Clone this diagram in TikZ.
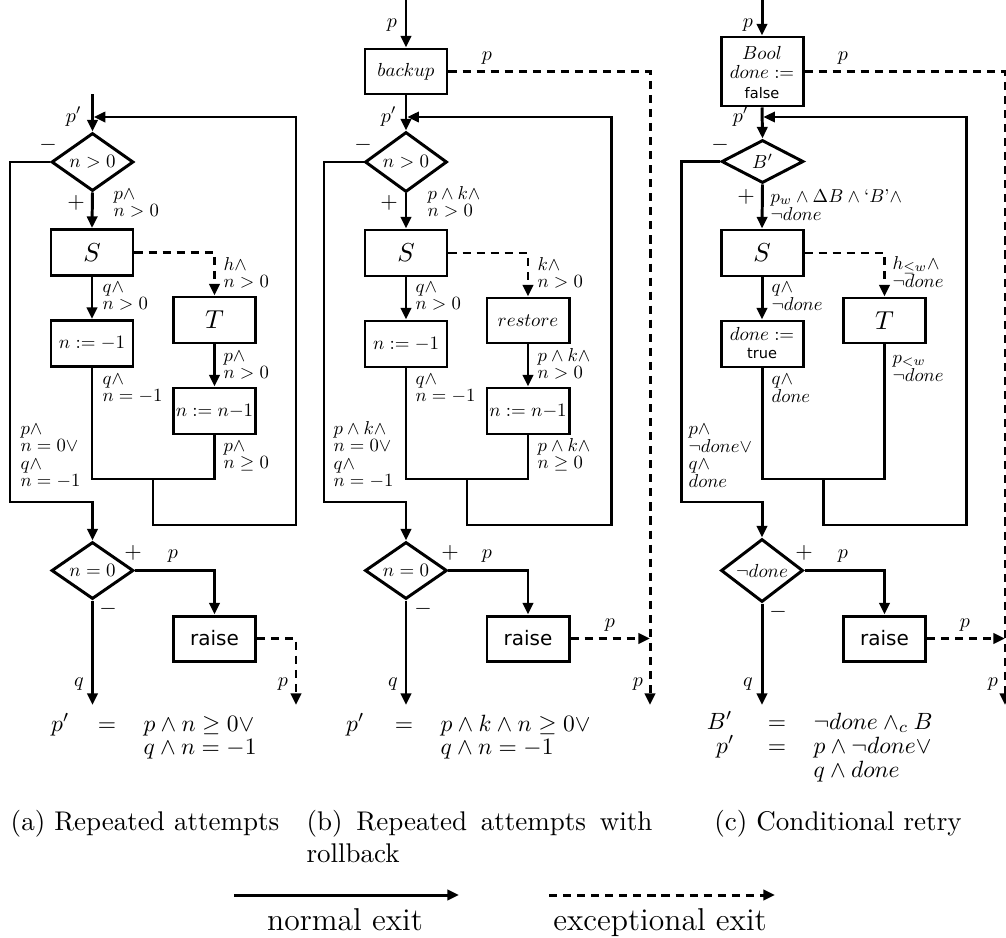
\RequirePackage{fix-cm}
\documentclass[tikz,border=0pt]{standalone}
\usepackage{graphicx}
\usepackage{fontspec}
\newfontfamily\sansf{DejaVu Sans}
\usetikzlibrary{arrows.meta,shapes.geometric}
% one drawing unit
\newcommand\pxl{0.37pt}
% all diagram text is set at 10pt and scaled down as a whole
\newcommand\basefont{\fontsize{10}{9.4}\selectfont}
\newcommand\capfont{\fontsize{10}{12}\selectfont}
\newcommand\legfont{\fontsize{11.7}{14}\selectfont}
\newcommand\lbltab[1]{\begin{tabular}[t]{@{}l@{}}#1\end{tabular}}
\newcommand\lblx[1]{\scalebox{0.69}{\lbltab{#1}}}
\newcommand\boxx[1]{\scalebox{0.7}{#1}}
\newcommand\diax[1]{\makebox[0pt]{\scalebox{0.7}{#1}}}
\newcommand\bigx[1]{\scalebox{0.96}{#1}}
\newcommand\pmx[1]{\scalebox{0.83}{#1}}
\newcommand\smx[1]{\scalebox{0.74}{#1}}
\newcommand\eqx[1]{\scalebox{0.87}{#1}}
\newcommand\raisetxt{{\fontsize{7.4}{9}\sansf raise}}
\begin{document}
\begin{tikzpicture}[x=0.37pt, y=-0.37pt,
  ln/.style={line width=1.1pt},
  flow/.style={ln, -{Triangle[length=4.3pt,width=3.8pt]}},
  exc/.style={ln, dash pattern=on 3pt off 2.2pt, -{Triangle[length=4.3pt,width=3.8pt]}},
  box/.style={draw, ln, rectangle, inner sep=0pt, minimum width=82*\pxl, minimum height=46*\pxl, font=\basefont},
  dia/.style={draw, ln, diamond, inner sep=0pt, minimum width=82*\pxl, minimum height=58*\pxl, font=\basefont},
  txt/.style={inner sep=0pt, font=\basefont},
  lbl/.style={inner sep=0pt, anchor=base west, font=\basefont},
  pm/.style={inner sep=0pt, font=\basefont},
  sm/.style={inner sep=0pt, anchor=base, font=\basefont},
  eq/.style={inner sep=0pt, font=\basefont},
  captxt/.style={inner sep=0pt, font=\capfont},
  leg/.style={inner sep=0pt, anchor=base, font=\legfont}]
\fill[white] (0,0) rectangle (1006,937);
\useasboundingbox (0,0) rectangle (1006,937);

%% ---------------- (a) repeated attempts ----------------
\node[dia] (a-d1) at (92.5,162) {\diax{$n>0$}};
\node[box] (a-S) at (92,252.5) {\bigx{$S$}};
\node[box] (a-n1) at (92,343.5) {\boxx{$n:=-1$}};
\node[box] (a-T) at (214.5,320) {\bigx{$T$}};
\node[box] (a-dec) at (214.5,411) {\boxx{$n:=n{-}1$}};
\node[dia, minimum height=57*\pxl] (a-d2) at (92.5,570.5) {\diax{$n=0$}};
\node[box, minimum height=45*\pxl] (a-raise) at (214.5,638.5) {\raisetxt};
\coordinate (a-in) at (92.5,94);
\coordinate (a-j) at (153,479);
\coordinate (a-r) at (296,525);
\coordinate (a-t) at (92.5,117);
\coordinate (a-l) at (10,502);
\coordinate (a-out) at (92.5,705);
\coordinate (a-xout) at (296,705);

\draw[flow] (a-in) -- (a-d1.north);
\draw[ln] (a-n1.south) |- (a-j) -| (a-dec.south);
\draw[flow, shorten >=0.5pt] (a-j) |- (a-r) |- (a-t);
\draw[flow] (a-d1.south) -- (a-S.north);
\draw[flow] (a-S.south) -- (a-n1.north);
\draw[exc] (a-S.east) -| (a-T.north);
\draw[flow] (a-T.south) -- (a-dec.north);
\draw[flow] (a-d1.west) -| (a-l) -| (a-d2.north);
\draw[flow] (a-d2.east) -| (a-raise.north);
\draw[flow] (a-d2.south) -- (a-out);
\draw[exc] (a-raise.east) -| (a-xout);

\node[sm, anchor=base east] (a-pp) at (82,122) {\smx{$p'$}};
\node[pm] (a-mi1) at (48,145) {\pmx{$-$}};
\node[pm] (a-pl1) at (76,203) {\pmx{$+$}};
\node[lbl] (a-L1) at (113,199) {\lblx{$p\wedge$\\$n>0$}};
\node[lbl] (a-L2) at (223,270) {\lblx{$h\wedge$\\$n>0$}};
\node[lbl] (a-L3) at (102,292) {\lblx{$q\wedge$\\$n>0$}};
\node[lbl] (a-L4) at (223,361) {\lblx{$p\wedge$\\$n>0$}};
\node[lbl] (a-L5) at (102,384) {\lblx{$q\wedge$\\$n=-1$}};
\node[lbl] (a-L6) at (223,451) {\lblx{$p\wedge$\\$n\geq 0$}};
\node[lbl] (a-L7) at (20,434) {\lblx{$p\wedge$\\$n=0\vee$\\$q\wedge$\\$n=-1$}};
\node[pm] (a-pl2) at (133,553) {\pmx{$+$}};
\node[sm] (a-p2) at (173,558) {\smx{$p$}};
\node[pm] (a-mi2) at (108,609) {\pmx{$-$}};
\node[sm] (a-q) at (79,686) {\smx{$q$}};
\node[sm] (a-px) at (283,686) {\smx{$p$}};

\node[eq, anchor=base east] (a-e1l) at (70,731) {\eqx{$p'$}};
\node[eq, anchor=base] (a-e1m) at (107,731) {\eqx{$=$}};
\node[eq, anchor=base west] (a-e1r) at (143,731) {\eqx{$p\wedge n\geq 0\vee$}};
\node[eq, anchor=base west] (a-e2r) at (143,754) {\eqx{$q\wedge n=-1$}};

%% ---------------- (b) repeated attempts with rollback ----------------
\node[box, minimum height=45*\pxl] (b-bk) at (406,71.5) {\boxx{$backup$}};
\node[dia, minimum height=60*\pxl] (b-d1) at (406,162) {\diax{$n>0$}};
\node[box] (b-S) at (406,253) {\bigx{$S$}};
\node[box] (b-n1) at (406,344) {\boxx{$n:=-1$}};
\node[box, minimum height=45*\pxl] (b-rs) at (528,320.5) {\boxx{$restore$}};
\node[box] (b-dec) at (528,411) {\boxx{$n:=n{-}1$}};
\node[dia, minimum height=57*\pxl] (b-d2) at (406,570.5) {\diax{$n=0$}};
\node[box, minimum height=45*\pxl] (b-raise) at (528,638.5) {\raisetxt};
\coordinate (b-in) at (406,0);
\coordinate (b-j) at (467,479);
\coordinate (b-r) at (611,525);
\coordinate (b-t) at (406,117);
\coordinate (b-l) at (324,502);
\coordinate (b-out) at (406,705);
\coordinate (b-xout) at (650,705);

\draw[flow] (b-in) -- (b-bk.north);
\draw[flow] (b-bk.south) -- (b-d1.north);
\draw[exc] (b-bk.east) -| (b-xout);
\draw[ln] (b-n1.south) |- (b-j) -| (b-dec.south);
\draw[flow, shorten >=0.5pt] (b-j) |- (b-r) |- (b-t);
\draw[flow] (b-d1.south) -- (b-S.north);
\draw[flow] (b-S.south) -- (b-n1.north);
\draw[exc] (b-S.east) -| (b-rs.north);
\draw[flow] (b-rs.south) -- (b-dec.north);
\draw[flow] (b-d1.west) -| (b-l) -| (b-d2.north);
\draw[flow] (b-d2.east) -| (b-raise.north);
\draw[flow] (b-d2.south) -- (b-out);
\draw[exc] (b-raise.east) -- (b-raise.east -| b-xout);

\node[sm] (b-pin) at (392,27) {\smx{$p$}};
\node[sm] (b-pbk) at (487,60) {\smx{$p$}};
\node[sm, anchor=base east] (b-pp) at (397,122) {\smx{$p'$}};
\node[pm] (b-mi1) at (363,145) {\pmx{$-$}};
\node[pm] (b-pl1) at (389,203) {\pmx{$+$}};
\node[lbl] (b-L1) at (427,199) {\lblx{$p\wedge k\wedge$\\$n>0$}};
\node[lbl] (b-L2) at (537,270) {\lblx{$k\wedge$\\$n>0$}};
\node[lbl] (b-L3) at (415,292) {\lblx{$q\wedge$\\$n>0$}};
\node[lbl] (b-L4) at (537,361) {\lblx{$p\wedge k\wedge$\\$n>0$}};
\node[lbl] (b-L5) at (415,384) {\lblx{$q\wedge$\\$n=-1$}};
\node[lbl] (b-L6) at (537,451) {\lblx{$p\wedge k\wedge$\\$n\geq 0$}};
\node[lbl] (b-L7) at (333,434) {\lblx{$p\wedge k\wedge$\\$n=0\vee$\\$q\wedge$\\$n=-1$}};
\node[pm] (b-pl2) at (450,553) {\pmx{$+$}};
\node[sm] (b-p2) at (487,558) {\smx{$p$}};
\node[pm] (b-mi2) at (423,609) {\pmx{$-$}};
\node[sm] (b-praise) at (610,627) {\smx{$p$}};
\node[sm] (b-q) at (393,686) {\smx{$q$}};
\node[sm] (b-px) at (638,686) {\smx{$p$}};

\node[eq, anchor=base east] (b-e1l) at (365,731) {\eqx{$p'$}};
\node[eq, anchor=base] (b-e1m) at (404,731) {\eqx{$=$}};
\node[eq, anchor=base west] (b-e1r) at (440,731) {\eqx{$p\wedge k\wedge n\geq 0\vee$}};
\node[eq, anchor=base west] (b-e2r) at (440,754) {\eqx{$q\wedge n=-1$}};

%% ---------------- (c) conditional retry ----------------
\node[box, minimum height=69*\pxl] (c-bool) at (762,71.5) {};
\node[txt] (c-boolt) at (762,75)
  {\boxx{\fontsize{10}{10.3}\selectfont\begin{tabular}{@{}c@{}}$Bool$\\$done:=$\\{\fontsize{7.7}{10.3}\sansf false}\end{tabular}}};
\node[dia, minimum height=43*\pxl] (c-d1) at (762.5,161.5) {\diax{$B'$}};
\node[box] (c-S) at (762,253) {\bigx{$S$}};
\node[box] (c-done) at (762,344) {};
\node[txt] (c-donet) at (762,346)
  {\boxx{\fontsize{10}{9.5}\selectfont\begin{tabular}{@{}c@{}}$done:=$\\{\fontsize{7.7}{9.5}\sansf true}\end{tabular}}};
\node[box, minimum height=45*\pxl] (c-T) at (884.5,320.5) {\bigx{$T$}};
\node[dia, minimum height=63*\pxl] (c-d2) at (762,570.5) {\diax{$\neg done$}};
\node[box, minimum height=45*\pxl] (c-raise) at (884.5,638.5) {\raisetxt};
\coordinate (c-in) at (762,0);
\coordinate (c-j) at (823,479);
\coordinate (c-r) at (966,525);
\coordinate (c-t) at (762,117);
\coordinate (c-l) at (681,502);
\coordinate (c-out) at (762,705);
\coordinate (c-xout) at (1005,705);

\draw[flow] (c-in) -- (c-bool.north);
\draw[flow] (c-bool.south) -- (c-d1.north);
\draw[exc] (c-bool.east) -| (c-xout);
\draw[ln] (c-done.south) |- (c-j) -| (c-T.south);
\draw[flow, shorten >=0.5pt] (c-j) |- (c-r) |- (c-t);
\draw[flow] (c-d1.south) -- (c-S.north);
\draw[flow] (c-S.south) -- (c-done.north);
\draw[exc] (c-S.east) -| (c-T.north);
\draw[flow] (c-d1.west) -| (c-l) -| (c-d2.north);
\draw[flow] (c-d2.east) -| (c-raise.north);
\draw[flow] (c-d2.south) -- (c-out);
\draw[exc] (c-raise.east) -- (c-raise.east -| c-xout);

\node[sm] (c-pin) at (748,27) {\smx{$p$}};
\node[sm] (c-pbool) at (843,60) {\smx{$p$}};
\node[sm, anchor=base east] (c-pp) at (749,122) {\smx{$p'$}};
\node[pm] (c-mi1) at (720,145) {\pmx{$-$}};
\node[pm] (c-pl1) at (746,197) {\pmx{$+$}};
\node[lbl] (c-L1) at (770,202) {\lblx{$p_w\wedge\Delta B\wedge{}$`$B$'$\wedge$\\$\neg done$}};
\node[lbl] (c-L2) at (892,269) {\lblx{$h_{\leq w}\wedge$\\$\neg done$}};
\node[lbl] (c-L3) at (771,292) {\lblx{$q\wedge$\\$\neg done$}};
\node[lbl] (c-L4) at (892,363) {\lblx{$p_{<w}$\\$\neg done$}};
\node[lbl] (c-L5) at (771,384) {\lblx{$q\wedge$\\$done$}};
\node[lbl] (c-L6) at (688,434) {\lblx{$p\wedge$\\$\neg done\vee$\\$q\wedge$\\$done$}};
\node[pm] (c-pl2) at (804,553) {\pmx{$+$}};
\node[sm] (c-p2) at (843,558) {\smx{$p$}};
\node[pm] (c-mi2) at (778,612) {\pmx{$-$}};
\node[sm] (c-praise) at (965,627) {\smx{$p$}};
\node[sm] (c-q) at (748,686) {\smx{$q$}};
\node[sm] (c-px) at (993,686) {\smx{$p$}};

\node[eq, anchor=base east] (c-e1l) at (733,729) {\eqx{$B'$}};
\node[eq, anchor=base] (c-e1m) at (777,729) {\eqx{$=$}};
\node[eq, anchor=base west] (c-e1r) at (813,729) {\eqx{$\neg done\wedge_c B$}};
\node[eq, anchor=base east] (c-e2l) at (735,753) {\eqx{$p'$}};
\node[eq, anchor=base] (c-e2m) at (777,753) {\eqx{$=$}};
\node[eq, anchor=base west] (c-e2r) at (813,753) {\eqx{$p\wedge\neg done\vee$}};
\node[eq, anchor=base west] (c-e3r) at (813,777) {\eqx{$q\wedge done$}};

%% ---------------- captions and legend ----------------
\node[captxt, anchor=base] (cap-a) at (145,830) {(a) Repeated attempts};
\node[captxt, anchor=base west] (cap-b) at (306,830)
  {\parbox[t]{128pt}{(b) Repeated attempts with rollback}};
\node[captxt, anchor=base] (cap-c) at (838,830) {(c) Conditional retry};

\coordinate (lg-n0) at (234,895);
\coordinate (lg-n1) at (459,895);
\coordinate (lg-e0) at (549,895);
\coordinate (lg-e1) at (775,895);
\draw[flow] (lg-n0) -- (lg-n1);
\draw[exc] (lg-e0) -- (lg-e1);
\node[leg] (lg-nt) at (345,930) {normal exit};
\node[leg] (lg-et) at (660,930) {exceptional exit};
\end{tikzpicture}
\end{document}
